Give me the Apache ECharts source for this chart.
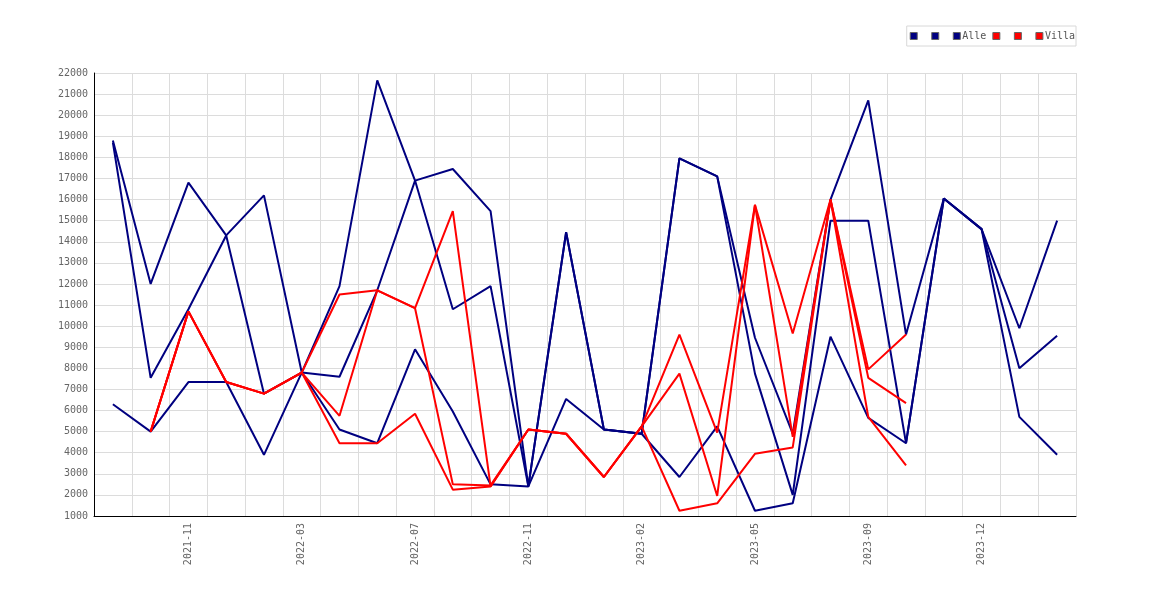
<!DOCTYPE html>
<html>
<head>
<meta charset="utf-8">
<script src="https://cdn.jsdelivr.net/npm/echarts@6/dist/echarts.min.js"></script>
<style>
    html, body { margin: 0; padding: 0; background: #fff; }
    #chart { width: 1170px; height: 600px; }
</style>
</head>
<body>
<div id="chart"></div>
<script>
// x categories (only every third one is labelled)
const months = ['2021-08', '2021-10', '2021-11', '2022-01', '2022-02', '2022-03', '2022-05',
    '2022-06', '2022-07', '2022-09', '2022-10', '2022-11', '2022-12', '2023-01', '2023-02',
    '2023-03', '2023-04', '2023-05', '2023-06', '2023-08', '2023-09', '2023-10', '2023-11',
    '2023-12', '2024-01', '2024-02'];

// navy series
const navy1 = [18800, 12000, 16800, 14300, 6800, 7800, 11900, 21650, 16900, 17450, 15450, 2400, 14450,
    5100, 4900, 17950, 17100, 9450, 4900, 16000, 20700, 9600, 16050, 14600, 9900, 15000];
const navy2 = [18700, 7550, 10800, 14300, 16200, 7800, 7600, 11700, 16900, 10800, 11900, 2400, 14450,
    5100, 4900, 17950, 17100, 7750, 2000, 15000, 15000, 4450, 16050, 14600, 8000, 9550];
const alle = [6300, 5000, 7350, 7350, 3900, 7800, 5100, 4450, 8900, 5950, 2500, 2400, 6550,
    5100, 4900, 2850, 5250, 1250, 1600, 9500, 5650, 4450, 16050, 14600, 5700, 3900];

// red series
const red1 = [null, 5000, 10700, 7350, 6800, 7800, 11500, 11700, 10850, 15450, 2400, 5100, 4900,
    2850, 5250, 9600, 4950, 15750, 9650, 16000, 7950, 9600, null, null, null, null];
const red2 = [null, 5000, 10700, 7350, 6800, 7800, 5750, 11700, 10850, 2500, 2450, 5100, 4900,
    2850, 5250, 7750, 1950, 15750, 4750, 16000, 7550, 6350, null, null, null, null];
const villa = [null, 5000, 10700, 7350, 6800, 7800, 4450, 4450, 5850, 2250, 2400, 5100, 4900,
    2850, 5250, 1250, 1600, 3950, 4250, 16000, 5700, 3400, null, null, null, null];

const yMin = 1000;
const yMax = 22000;
const yStep = 1000;

const font = 'DejaVu Sans Mono';

function line(name, data, color) {
    return {
        name: name,
        type: 'line',
        data: data,
        color: color,
        showSymbol: false,
        symbol: 'none',
        lineStyle: { width: 2, color: color },
        connectNulls: false
    };
}

var myChart = echarts.init(document.getElementById('chart'));
var option = {
    animation: false,
    backgroundColor: '#fff',
    legend: {
        right: 94,
        top: 26,
        padding: [5, 1, 5, 3],
        itemGap: 6,
        itemWidth: 7,
        itemHeight: 7,
        icon: 'rect',
        borderColor: '#d8d8d8',
        borderWidth: 1,
        itemStyle: { borderColor: '#666', borderWidth: 1 },
        formatter: function (name) {
            return name.trim() === '' ? ' ' : name;
        },
        textStyle: { fontFamily: font, fontSize: 10, color: '#555', padding: [0, 0, 0, -3] },
        data: [' ', '  ', 'Alle', '   ', '    ', 'Villa']
    },
    grid: {
        left: 94,
        right: 94,
        top: 73,
        bottom: 84,
        containLabel: false
    },
    xAxis: {
        type: 'category',
        boundaryGap: true,
        data: months,
        axisLine: { show: true, lineStyle: { color: '#000', width: 1 } },
        axisTick: { show: false, interval: 0 },
        axisLabel: {
            rotate: 90,
            margin: 7,
            interval: function (i) { return i % 3 === 2; },
            fontFamily: font,
            fontSize: 10,
            color: '#666'
        },
        splitLine: { show: true, interval: 0, lineStyle: { color: '#dcdcdc', width: 1 } }
    },
    yAxis: {
        type: 'value',
        min: yMin,
        max: yMax,
        interval: yStep,
        axisLine: { show: true, lineStyle: { color: '#000', width: 1 } },
        axisTick: { show: false },
        axisLabel: {
            margin: 6,
            fontFamily: font,
            fontSize: 10,
            color: '#666',
            formatter: function (v) { return String(v); }
        },
        splitLine: { show: true, lineStyle: { color: '#dcdcdc', width: 1 } }
    },
    series: [
        line(' ', navy1, '#000080'),
        line('  ', navy2, '#000080'),
        line('Alle', alle, '#000080'),
        line('   ', red1, '#ff0000'),
        line('    ', red2, '#ff0000'),
        line('Villa', villa, '#ff0000')
    ]
};

option && myChart.setOption(option);
</script>
</body>
</html>
